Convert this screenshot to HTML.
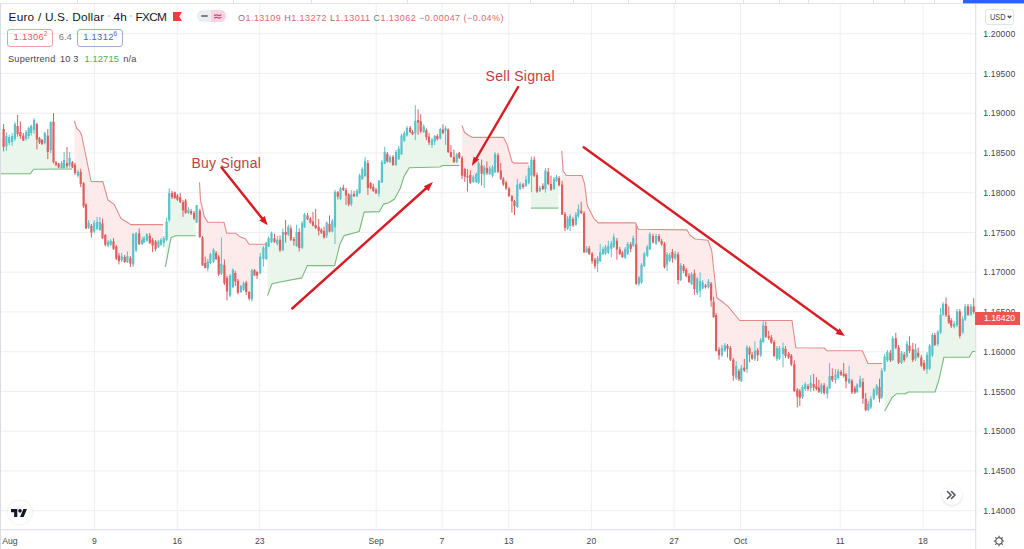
<!DOCTYPE html>
<html><head><meta charset="utf-8">
<style>
html,body{margin:0;padding:0;background:#fff;width:1024px;height:549px;overflow:hidden;}
body{position:relative;font-family:"Liberation Sans",sans-serif;}
.a{position:absolute;white-space:nowrap;}
svg{position:absolute;left:0;top:0;}
.pl{position:absolute;left:983.3px;font-size:8.6px;letter-spacing:0.15px;margin-top:-0.4px;color:#434651;line-height:10px;}
.tl{position:absolute;top:536px;font-size:8.6px;color:#434651;line-height:10px;transform:translateX(-50%);}
</style></head><body>
<div id="root" style="position:absolute;left:0;top:0;width:1024px;height:549px;overflow:hidden;">
<svg width="1024" height="549" viewBox="0 0 1024 549">
<g id="grid" stroke="#edeff2" stroke-width="1">
<line x1="1" y1="33.70" x2="975" y2="33.70"/>
<line x1="1" y1="73.45" x2="975" y2="73.45"/>
<line x1="1" y1="113.20" x2="975" y2="113.20"/>
<line x1="1" y1="152.95" x2="975" y2="152.95"/>
<line x1="1" y1="192.70" x2="975" y2="192.70"/>
<line x1="1" y1="232.45" x2="975" y2="232.45"/>
<line x1="1" y1="272.20" x2="975" y2="272.20"/>
<line x1="1" y1="311.95" x2="975" y2="311.95"/>
<line x1="1" y1="351.70" x2="975" y2="351.70"/>
<line x1="1" y1="391.45" x2="975" y2="391.45"/>
<line x1="1" y1="431.20" x2="975" y2="431.20"/>
<line x1="1" y1="470.95" x2="975" y2="470.95"/>
<line x1="1" y1="510.70" x2="975" y2="510.70"/>
<line x1="94.40" y1="4" x2="94.40" y2="529"/>
<line x1="177.20" y1="4" x2="177.20" y2="529"/>
<line x1="259.70" y1="4" x2="259.70" y2="529"/>
<line x1="376.20" y1="4" x2="376.20" y2="529"/>
<line x1="442.00" y1="4" x2="442.00" y2="529"/>
<line x1="508.80" y1="4" x2="508.80" y2="529"/>
<line x1="591.40" y1="4" x2="591.40" y2="529"/>
<line x1="674.00" y1="4" x2="674.00" y2="529"/>
<line x1="740.50" y1="4" x2="740.50" y2="529"/>
<line x1="840.20" y1="4" x2="840.20" y2="529"/>
<line x1="923.00" y1="4" x2="923.00" y2="529"/>
</g>
<polygon points="0,173.8 3.6,173.8 6.4,173.8 9.2,173.8 12.1,173.8 14.9,173.8 17.6,173.8 20.4,173.8 23.3,173.8 26.1,173.8 28.7,173.8 30.3,173.8 31.2,172.55 33.6,169.2 34.1,169.2 36.9,169.18 39.5,169.17 42,169.16 44.8,169.14 47.8,169.13 50.7,169.11 53.5,169.1 56,169.08 58.6,169.07 61.6,169.06 64.1,169.04 67,169.03 69.6,169.01 72.4,169 72.4,164.85 69.6,161.5 67,164.5 64.1,164 61.6,165.5 58.6,165.45 56,163.55 53.5,141.85 50.7,136 47.8,143.75 44.8,138 42,142 39.5,140.25 36.9,131.65 34.1,125 33.6,125.78 31.2,129.5 30.3,130.4 28.7,132 26.1,135.5 23.3,138.05 20.4,134 17.6,130 14.9,131.5 12.1,139 9.2,140 6.4,141.15 3.6,138 0,138" fill="#eaf6eb"/>
<polygon points="74.4,120.9 75,122.89 76.6,128.2 77.9,129.54 80.2,131.9 80.7,133.1 81.7,135.5 83.6,144.8 86,156.54 88.6,169.27 91.1,181.5 91.4,181.5 94.2,181.53 97.1,181.55 99.9,181.57 102.5,181.6 102.9,181.6 105.3,190.47 107.8,199.7 108.1,199.93 110.7,201.89 113.5,204 114.3,204.6 116.3,208.81 118.9,214.29 120.9,218.5 121.7,218.99 124.7,220.81 127.4,222.45 128.3,223 130.4,224.4 130.7,224.6 133.2,224.6 136.1,224.6 139.2,224.6 142.2,224.6 144.1,224.6 146.9,224.6 149.8,224.6 152.6,224.6 155.6,224.6 158.4,224.6 161,224.6 163,224.6 163,241.12 161,242.3 158.4,244.35 155.6,245.2 152.6,242.7 149.8,239.4 146.9,237.35 144.1,240.25 142.2,241.9 139.2,238.65 136.1,241.9 133.2,249.2 130.7,259.51 130.4,260.75 128.3,259.53 127.4,259 124.7,259.5 121.7,258.25 120.9,258.25 118.9,258.25 116.3,252.55 114.3,247.3 113.5,245.2 110.7,242.75 108.1,243.55 107.8,243.16 105.3,239.9 102.9,232.1 102.5,230.8 99.9,226 97.1,225.4 94.2,227.1 91.4,229.25 91.1,228.8 88.6,225.05 86,216.5 83.6,194.75 81.7,183.71 80.7,177.9 80.2,177.16 77.9,173.75 76.6,171.6 75,168.95 74.4,168" fill="#fdebeb"/>
<polygon points="165.4,266.9 166.6,260.69 169.2,247.23 171.1,237.4 172,237.09 174.8,236.12 176,235.7 177.4,235.7 180.2,235.7 183,235.7 185.6,235.7 188.4,235.7 191.1,235.7 194.1,235.7 195.7,235.7 195.7,214.47 194.1,215.65 191.1,212.35 188.4,211.15 185.6,206.65 183,206.2 180.2,199.65 177.4,197.65 176,196.3 174.8,195.15 172,195.15 171.1,198.85 169.2,206.65 166.6,230.8 165.4,235.02" fill="#eaf6eb"/>
<polygon points="199.5,182.4 199.8,187.68 200.5,200 202.5,208.74 204.3,216.6 205.2,218.11 207.7,222.3 207.8,222.3 210.4,222.3 213.5,222.3 216.1,222.3 218.7,222.3 221.4,222.3 224,222.3 224.4,223.98 226.6,233.2 227,233.2 230.1,233.24 232.9,233.27 235.3,233.29 236,233.3 237.9,234.94 240.4,237.1 240.9,237.26 243.6,238.14 245.3,238.7 246.2,240 249.1,244.2 249.2,244.2 251.9,244.2 254.5,244.2 257.1,244.2 260.2,244.2 263.4,244.2 266,244.2 266,251.01 263.4,253.3 260.2,264.85 257.1,273.75 254.5,272.85 251.9,284.7 249.2,295.3 249.1,295.03 246.2,287.3 245.3,287.01 243.6,286.45 240.9,289.1 240.4,288.71 237.9,286.75 236,279.77 235.3,277.2 232.9,278.45 230.1,285.55 227,284.7 226.6,283.06 224.4,274.05 224,273.34 221.4,268.7 218.7,265.45 216.1,256 213.5,255.7 210.4,258.6 207.8,264.85 207.7,264.87 205.2,265.4 204.3,260.77 202.5,251.5 200.5,231.06 199.8,223.9 199.5,222.95" fill="#fdebeb"/>
<polygon points="267.5,295.6 268.6,292.72 271.5,285.11 272,283.8 274.5,283.24 277.3,282.61 280,282 282.9,281.46 285.6,280.95 288.3,280.45 290.9,279.96 293.9,279.4 296.6,278.89 299.2,278.41 301.9,277.9 302.2,277.22 304.5,271.98 307.3,265.6 307.5,265.6 310.4,265.6 313,265.6 315.7,265.6 318.7,265.6 321.3,265.6 324,265.6 326.7,265.6 329.5,265.6 332.3,265.6 334.6,265.6 335,263.99 337.8,252.74 340,243.9 340.5,242.89 343.3,237.22 344.1,235.6 346,235.08 348.7,234.35 351.3,233.65 354,232.91 357,232.1 359.2,231.5 359.6,229.92 362.3,219.23 364.1,212.1 365.1,212.07 367.9,211.98 370.6,211.89 373.3,211.8 376,211.71 378.9,211.62 379.5,211.6 381.9,207.21 383.6,204.1 384.7,203.8 387.3,203.08 388.7,202.7 390,201.88 393,200 394.6,199 396,196.37 398.7,191.29 400.4,188.1 401.5,184.52 404,176.4 404.3,175.9 407,171.38 409.2,167.7 410.2,167.68 412.5,167.62 415.3,167.56 418.1,167.5 420.7,167.44 423.7,167.37 426.4,167.31 429,167.25 432,167.18 434.7,167.12 437.3,167.06 439.8,167 440.3,166.74 442.7,165.5 443,165.5 445.6,165.5 448.2,165.5 450.9,165.5 453.9,165.5 456.7,165.5 459.3,165.5 459.4,165.5 459.4,155.87 459.3,155.45 456.7,158.15 453.9,159.45 450.9,154.45 448.2,140.85 445.6,129.3 443,131.35 442.7,131.62 440.3,133.75 439.8,134.38 437.3,137.55 434.7,138.75 432,142.3 429,139.65 426.4,133.75 423.7,129.3 420.7,126.35 418.1,121.3 415.3,126.9 412.5,133.15 410.2,129.9 409.2,130.45 407,131.65 404.3,136.95 404,137.81 401.5,144.95 400.4,148.45 398.7,153.85 396,158.55 394.6,159.65 393,160.9 390,159.45 388.7,158.58 387.3,157.65 384.7,158 383.6,163.56 381.9,172.15 379.5,184.27 378.9,187.3 376,191.4 373.3,188.75 370.6,185.5 367.9,175.45 365.1,168.6 364.1,170.51 362.3,173.95 359.6,184.3 359.2,185.72 357,193.5 354,195 351.3,199.4 348.7,199.4 346,192.7 344.1,189.99 343.3,188.85 340.5,193.6 340,193.77 337.8,194.5 335,209.55 334.6,212.01 332.3,226.15 329.5,227.65 326.7,229.1 324,234.15 321.3,231.2 318.7,228.8 315.7,226.5 313,223.5 310.4,220.55 307.5,217.35 307.3,217.57 304.5,220.7 302.2,235.5 301.9,235.95 299.2,240 296.6,239.1 293.9,239.9 290.9,234 288.3,230.45 285.6,233.45 282.9,241.15 280,244.95 277.3,241.7 274.5,240.1 272,237.81 271.5,237.35 268.6,242.3 267.5,246.34" fill="#eaf6eb"/>
<polygon points="461.9,125.4 462,125.66 464.6,132.5 464.8,132.64 467.4,134.49 468.4,135.2 470.3,136.15 472.8,137.4 473.3,137.4 476.3,137.4 478.6,137.4 481.6,137.4 484.2,137.4 486.9,137.4 489.7,137.4 492.5,137.4 495,137.4 498,137.4 500.8,137.4 503.3,137.4 503.4,137.4 506.1,142.31 506.7,143.4 509,151.32 511.9,161.31 512.1,162 514.3,163.1 514.5,163.1 517.3,163.1 520.1,163.1 523.1,163.1 526,163.1 528.5,163.1 528.5,176.39 526,182.6 523.1,185.8 520.1,186.45 517.3,195.7 514.5,203.65 514.3,203.26 512.1,198.94 511.9,198.55 509,192.2 506.7,186.89 506.1,185.5 503.4,181.79 503.3,181.65 500.8,174.65 498,163.5 495,163.15 492.5,171.45 489.7,171.25 486.9,170.55 484.2,170.85 481.6,169.65 478.6,172.9 476.3,177.9 473.3,179.35 472.8,179.27 470.3,178.85 468.4,177.54 467.4,176.85 464.8,172.85 464.6,172.41 462,166.7 461.9,166.28" fill="#fdebeb"/>
<polygon points="531,208.1 531.4,208.1 534.2,208.1 537,208.1 539.9,208.1 542.9,208.1 545.4,208.1 548.2,208.1 551,208.1 554,208.1 556.5,208.1 558.4,208.1 558.4,180.92 556.5,178.8 554,183.9 551,186.75 548.2,177.85 545.4,179.75 542.9,187.4 539.9,189.3 537,183.3 534.2,167.65 531.4,167.65 531,168.88" fill="#eaf6eb"/>
<polygon points="561.8,150.9 562.1,155.54 563.1,171 565,173.59 566.4,175.5 567.6,175.5 570.1,175.5 573,175.5 575.9,175.5 578.4,175.5 581.2,175.5 581.9,175.5 584.1,182.18 584.6,183.7 586.6,199.92 587.3,205.6 589.2,209.37 592.1,215.12 593.7,218.3 595,219.6 597.6,222.2 598.3,222.9 600.2,222.9 603,222.9 605.5,222.9 608.3,222.9 611.3,222.9 613.8,222.9 616.9,222.9 619.8,222.9 622.4,222.9 625.2,222.9 627.7,222.9 630.7,222.9 633.2,222.9 635.6,222.9 636.2,224.32 638.3,229.3 639,229.31 641.5,229.34 644.3,229.37 647.3,229.41 649.8,229.44 653,229.48 656.1,229.52 659,229.55 661.6,229.59 664.5,229.62 667.1,229.65 669.6,229.68 672.4,229.72 675.2,229.75 678.1,229.79 680.7,229.82 683.6,229.86 686.2,229.89 687.1,229.9 689,233.37 690,235.2 691.6,236.39 694.4,238.48 695.1,239 697.2,239.21 700.1,239.51 702.7,239.77 705.5,240.06 707.9,240.3 708.4,241.64 711.1,248.89 711.7,250.5 713.6,268.08 716.1,291.22 716.8,297.7 719,299.34 721.9,301.5 722,301.58 724.9,303.89 727.5,305.96 728.3,306.6 730.4,309.16 733.3,312.7 736.2,316.23 738.9,319.52 739.7,320.5 741.3,320.5 744.3,320.5 747,320.5 749.6,320.5 752.1,320.5 754.9,320.5 757.7,320.5 760.7,320.5 763.2,320.5 765.8,320.5 768.7,320.5 771.3,320.5 774.1,320.5 776.9,320.5 779.4,320.5 783,320.5 785.5,320.5 788.6,320.5 791.3,320.5 792,320.5 794.3,336.6 795.9,347.8 797.3,347.81 799.8,347.83 802.5,347.85 805.2,347.87 808,347.89 810.7,347.9 813.7,347.93 816.4,347.95 818.9,347.96 821.4,347.98 824.1,348 826.9,350.7 827.3,350.7 829.6,350.7 832.3,350.7 835.5,350.7 838.2,350.7 841,350.7 843.7,350.7 846,350.7 849.1,350.7 851.9,350.7 854.9,350.7 857.2,350.7 860.1,350.7 862.3,350.7 862.9,352.05 865.7,358.34 868,363.5 868.3,363.5 870.8,363.5 873.8,363.5 876.7,363.5 879.5,363.5 881.8,363.5 882.1,363.5 882.1,381.71 881.8,383.9 879.5,392.85 876.7,390.25 873.8,394.1 870.8,403.05 868.3,406.85 868,406.56 865.7,404.3 862.9,390.3 862.3,388.79 860.1,383.25 857.2,388.35 854.9,390.35 851.9,386.6 849.1,380.75 846,378 843.7,374.95 841,373.25 838.2,374.6 835.5,377.35 832.3,378.05 829.6,382.15 827.3,390.65 826.9,390.48 824.1,389.25 821.4,388.65 818.9,389.65 816.4,387.6 813.7,385.9 810.7,385.55 808,387.6 805.2,386.6 802.5,392.05 799.8,394.4 797.3,393.05 795.9,385.89 794.3,377.7 792,364.09 791.3,359.95 788.6,355.45 785.5,352.4 783,350.8 779.4,353.4 776.9,353.7 774.1,348.9 771.3,339.95 768.7,337.1 765.8,331.4 763.2,333.6 760.7,347.65 757.7,352.75 754.9,354.95 752.1,356.55 749.6,351.45 747,358.15 744.3,369.15 741.3,374.25 739.7,374.95 738.9,375.3 736.2,372.05 733.3,367.7 730.4,353.85 728.3,349.07 727.5,347.25 724.9,348 722,351.65 721.9,351.68 719,352.4 716.8,337.72 716.1,333.05 713.6,309.35 711.7,296.13 711.1,291.95 708.4,284.25 707.9,284.62 705.5,286.4 702.7,285.45 700.1,285.9 697.2,285.7 695.1,282.36 694.4,281.25 691.6,279.05 690,278.87 689,278.75 687.1,274.78 686.2,272.9 683.6,268.45 680.7,272.65 678.1,267.2 675.2,256.05 672.4,255.1 669.6,257.95 667.1,259.5 664.5,255.4 661.6,242.6 659,238.5 656.1,239.8 653,239.2 649.8,241.75 647.3,251.35 644.3,259.65 641.5,273.65 639,280.7 638.3,276.55 636.2,264.1 635.6,259.64 633.2,241.8 630.7,246.55 627.7,248.8 625.2,253.25 622.4,254.85 619.8,251.65 616.9,245.05 613.8,242 611.3,246.15 608.3,249.3 605.5,250.3 603,251.55 600.2,256.65 598.3,259.72 597.6,260.85 595,263 593.7,260.44 592.1,257.3 589.2,251.25 587.3,250.56 586.6,250.3 584.6,236.26 584.1,232.75 581.9,217.01 581.2,212 578.4,212.65 575.9,219.6 573,222.2 570.1,220.9 567.6,223.5 566.4,222.3 565,220.9 563.1,206.91 562.1,199.55 561.8,197.76" fill="#fdebeb"/>
<polygon points="884.6,411.3 887.4,406.21 890.4,400.75 892.3,397.3 892.7,396.96 895.8,394.31 896.4,393.8 898.6,393.8 901.5,393.8 904.2,393.8 905.5,393.8 906.9,392.87 908.2,392 909.5,392 912.8,392 915.5,392 918.2,392 921.3,392 924.1,392 927,392 929.6,392 932.4,392 934.8,392 935,392 937.8,383.38 938.9,380 940.6,372.25 943,361.3 943.9,357.2 946,357.2 948.8,357.2 951.2,357.2 954.2,357.2 957,357.2 959.8,357.2 962.7,357.2 965.2,357.2 968,357.2 969.3,357.2 970.9,354.35 972.5,351.5 973.7,351.5 976,351.5 976,309.25 973.7,309.25 972.5,309.79 970.9,310.5 969.3,310.5 968,310.5 965.2,312.95 962.7,325.65 959.8,323.6 957,318.25 954.2,325.25 951.2,323.2 948.8,319.1 946,309.65 943.9,309.37 943,309.25 940.6,323.6 938.9,332.31 937.8,337.95 935,339.82 934.8,339.95 932.4,345.3 929.6,357.2 927,361.9 924.1,366 921.3,361.5 918.2,354.65 915.5,354.2 912.8,354.65 909.5,348.25 908.2,349.17 906.9,350.1 905.5,353.86 904.2,357.35 901.5,357.8 898.6,355.1 896.4,345.48 895.8,342.85 892.7,349.2 892.3,350.47 890.4,356.5 887.4,356.15 884.6,363.5" fill="#eaf6eb"/>
<rect x="3.1" y="124" width="1" height="27.4" fill="#dd5f5f"/>
<rect x="2.5" y="129" width="2.2" height="18" fill="#dd5f5f"/>
<rect x="5.9" y="132.3" width="1" height="18.5" fill="#58c3cb"/>
<rect x="5.3" y="136" width="2.2" height="10.3" fill="#58c3cb"/>
<rect x="8.7" y="134.8" width="1" height="10.2" fill="#58c3cb"/>
<rect x="8.1" y="137" width="2.2" height="6" fill="#58c3cb"/>
<rect x="11.6" y="133" width="1" height="12.7" fill="#58c3cb"/>
<rect x="11" y="136" width="2.2" height="6" fill="#58c3cb"/>
<rect x="14.4" y="122" width="1" height="19" fill="#58c3cb"/>
<rect x="13.8" y="124" width="2.2" height="15" fill="#58c3cb"/>
<rect x="17.1" y="115" width="1" height="21.7" fill="#dd5f5f"/>
<rect x="16.5" y="126" width="2.2" height="8" fill="#dd5f5f"/>
<rect x="19.9" y="121.5" width="1" height="17.2" fill="#dd5f5f"/>
<rect x="19.3" y="132" width="2.2" height="4" fill="#dd5f5f"/>
<rect x="22.8" y="133" width="1" height="8" fill="#dd5f5f"/>
<rect x="22.2" y="135.5" width="2.2" height="5.1" fill="#dd5f5f"/>
<rect x="25.6" y="130" width="1" height="10.6" fill="#58c3cb"/>
<rect x="25" y="132" width="2.2" height="7" fill="#58c3cb"/>
<rect x="28.2" y="126.6" width="1" height="12.1" fill="#58c3cb"/>
<rect x="27.6" y="128" width="2.2" height="8" fill="#58c3cb"/>
<rect x="30.7" y="124.6" width="1" height="10.9" fill="#58c3cb"/>
<rect x="30.1" y="126" width="2.2" height="7" fill="#58c3cb"/>
<rect x="33.6" y="118.3" width="1" height="15.3" fill="#58c3cb"/>
<rect x="33" y="120" width="2.2" height="10" fill="#58c3cb"/>
<rect x="36.4" y="122.7" width="1" height="26.8" fill="#dd5f5f"/>
<rect x="35.8" y="124" width="2.2" height="15.3" fill="#dd5f5f"/>
<rect x="39" y="137" width="1" height="7" fill="#dd5f5f"/>
<rect x="38.4" y="138" width="2.2" height="4.5" fill="#dd5f5f"/>
<rect x="41.5" y="139" width="1" height="6" fill="#dd5f5f"/>
<rect x="40.9" y="140" width="2.2" height="4" fill="#dd5f5f"/>
<rect x="44.3" y="131.7" width="1" height="12.7" fill="#58c3cb"/>
<rect x="43.7" y="133" width="2.2" height="10" fill="#58c3cb"/>
<rect x="47.3" y="129" width="1" height="30" fill="#dd5f5f"/>
<rect x="46.7" y="135.5" width="2.2" height="16.5" fill="#dd5f5f"/>
<rect x="50.2" y="121.5" width="1" height="31.8" fill="#58c3cb"/>
<rect x="49.6" y="122" width="2.2" height="28" fill="#58c3cb"/>
<rect x="53" y="113.2" width="1" height="50.3" fill="#dd5f5f"/>
<rect x="52.4" y="121.5" width="2.2" height="40.7" fill="#dd5f5f"/>
<rect x="55.5" y="161" width="1" height="5" fill="#dd5f5f"/>
<rect x="54.9" y="162.3" width="2.2" height="2.5" fill="#dd5f5f"/>
<rect x="58.1" y="163" width="1" height="5" fill="#dd5f5f"/>
<rect x="57.5" y="163.5" width="2.2" height="3.9" fill="#dd5f5f"/>
<rect x="61.1" y="161" width="1" height="7.5" fill="#58c3cb"/>
<rect x="60.5" y="163" width="2.2" height="5" fill="#58c3cb"/>
<rect x="63.6" y="152.1" width="1" height="16.4" fill="#58c3cb"/>
<rect x="63" y="160" width="2.2" height="8" fill="#58c3cb"/>
<rect x="66.5" y="147" width="1" height="21" fill="#dd5f5f"/>
<rect x="65.9" y="163" width="2.2" height="3" fill="#dd5f5f"/>
<rect x="69.1" y="152" width="1" height="15.4" fill="#58c3cb"/>
<rect x="68.5" y="158" width="2.2" height="7" fill="#58c3cb"/>
<rect x="71.9" y="161" width="1" height="7" fill="#dd5f5f"/>
<rect x="71.3" y="162.3" width="2.2" height="5.1" fill="#dd5f5f"/>
<rect x="74.5" y="163" width="1" height="12" fill="#dd5f5f"/>
<rect x="73.9" y="164.8" width="2.2" height="8.3" fill="#dd5f5f"/>
<rect x="77.4" y="170" width="1" height="7.6" fill="#58c3cb"/>
<rect x="76.8" y="171.8" width="2.2" height="3.9" fill="#58c3cb"/>
<rect x="80.2" y="168.7" width="1" height="18.3" fill="#dd5f5f"/>
<rect x="79.6" y="171.8" width="2.2" height="12.2" fill="#dd5f5f"/>
<rect x="83.1" y="182" width="1" height="26" fill="#dd5f5f"/>
<rect x="82.5" y="183.3" width="2.2" height="22.9" fill="#dd5f5f"/>
<rect x="85.5" y="203" width="1" height="26" fill="#dd5f5f"/>
<rect x="84.9" y="204.6" width="2.2" height="23.8" fill="#dd5f5f"/>
<rect x="88.1" y="220" width="1" height="9" fill="#58c3cb"/>
<rect x="87.5" y="222.6" width="2.2" height="4.9" fill="#58c3cb"/>
<rect x="90.9" y="224" width="1" height="13.4" fill="#dd5f5f"/>
<rect x="90.3" y="226" width="2.2" height="6.5" fill="#dd5f5f"/>
<rect x="93.7" y="220" width="1" height="13" fill="#58c3cb"/>
<rect x="93.1" y="222.6" width="2.2" height="9" fill="#58c3cb"/>
<rect x="96.6" y="217" width="1" height="13" fill="#58c3cb"/>
<rect x="96" y="221.8" width="2.2" height="7.2" fill="#58c3cb"/>
<rect x="99.4" y="217" width="1" height="14" fill="#58c3cb"/>
<rect x="98.8" y="222" width="2.2" height="8" fill="#58c3cb"/>
<rect x="102" y="218.5" width="1" height="20.5" fill="#dd5f5f"/>
<rect x="101.4" y="223.4" width="2.2" height="14.8" fill="#dd5f5f"/>
<rect x="104.8" y="234" width="1" height="12.4" fill="#dd5f5f"/>
<rect x="104.2" y="235" width="2.2" height="9.8" fill="#dd5f5f"/>
<rect x="107.6" y="240" width="1" height="7" fill="#58c3cb"/>
<rect x="107" y="241.5" width="2.2" height="4.1" fill="#58c3cb"/>
<rect x="110.2" y="239" width="1" height="7" fill="#58c3cb"/>
<rect x="109.6" y="240.7" width="2.2" height="4.1" fill="#58c3cb"/>
<rect x="113" y="238.2" width="1" height="11.8" fill="#dd5f5f"/>
<rect x="112.4" y="241.5" width="2.2" height="7.4" fill="#dd5f5f"/>
<rect x="115.8" y="245" width="1" height="15" fill="#dd5f5f"/>
<rect x="115.2" y="246.4" width="2.2" height="12.3" fill="#dd5f5f"/>
<rect x="118.4" y="253" width="1" height="11.4" fill="#dd5f5f"/>
<rect x="117.8" y="255.4" width="2.2" height="5.7" fill="#dd5f5f"/>
<rect x="121.2" y="253" width="1" height="9" fill="#58c3cb"/>
<rect x="120.6" y="256.2" width="2.2" height="4.1" fill="#58c3cb"/>
<rect x="124.2" y="255" width="1" height="8" fill="#dd5f5f"/>
<rect x="123.6" y="257" width="2.2" height="5" fill="#dd5f5f"/>
<rect x="126.9" y="251.3" width="1" height="11.7" fill="#58c3cb"/>
<rect x="126.3" y="256" width="2.2" height="6" fill="#58c3cb"/>
<rect x="129.9" y="256" width="1" height="10.9" fill="#dd5f5f"/>
<rect x="129.3" y="257.9" width="2.2" height="5.7" fill="#dd5f5f"/>
<rect x="132.7" y="233" width="1" height="33.9" fill="#58c3cb"/>
<rect x="132.1" y="234" width="2.2" height="30.4" fill="#58c3cb"/>
<rect x="135.6" y="232" width="1" height="20" fill="#58c3cb"/>
<rect x="135" y="233.3" width="2.2" height="17.2" fill="#58c3cb"/>
<rect x="138.7" y="228.4" width="1" height="16.6" fill="#dd5f5f"/>
<rect x="138.1" y="233.3" width="2.2" height="10.7" fill="#dd5f5f"/>
<rect x="141.7" y="237" width="1" height="8" fill="#58c3cb"/>
<rect x="141.1" y="239.8" width="2.2" height="4.2" fill="#58c3cb"/>
<rect x="143.6" y="236" width="1" height="7" fill="#58c3cb"/>
<rect x="143" y="238.2" width="2.2" height="4.1" fill="#58c3cb"/>
<rect x="146.4" y="233.3" width="1" height="8.7" fill="#58c3cb"/>
<rect x="145.8" y="234" width="2.2" height="6.7" fill="#58c3cb"/>
<rect x="149.3" y="233" width="1" height="11" fill="#dd5f5f"/>
<rect x="148.7" y="235.7" width="2.2" height="7.4" fill="#dd5f5f"/>
<rect x="152.1" y="238" width="1" height="14.1" fill="#dd5f5f"/>
<rect x="151.5" y="239.8" width="2.2" height="5.8" fill="#dd5f5f"/>
<rect x="155.1" y="240" width="1" height="11.3" fill="#dd5f5f"/>
<rect x="154.5" y="241.5" width="2.2" height="7.4" fill="#dd5f5f"/>
<rect x="157.9" y="240" width="1" height="8" fill="#58c3cb"/>
<rect x="157.3" y="241.5" width="2.2" height="5.7" fill="#58c3cb"/>
<rect x="160.5" y="238" width="1" height="8" fill="#58c3cb"/>
<rect x="159.9" y="239.8" width="2.2" height="5" fill="#58c3cb"/>
<rect x="163.3" y="236" width="1" height="11.2" fill="#58c3cb"/>
<rect x="162.7" y="238.2" width="2.2" height="4.9" fill="#58c3cb"/>
<rect x="166.1" y="217.7" width="1" height="23.3" fill="#58c3cb"/>
<rect x="165.5" y="221.8" width="2.2" height="18" fill="#58c3cb"/>
<rect x="168.7" y="188.2" width="1" height="33.8" fill="#58c3cb"/>
<rect x="168.1" y="193.1" width="2.2" height="27.1" fill="#58c3cb"/>
<rect x="171.5" y="191" width="1" height="8" fill="#dd5f5f"/>
<rect x="170.9" y="193.1" width="2.2" height="4.1" fill="#dd5f5f"/>
<rect x="174.3" y="191.5" width="1" height="7.5" fill="#dd5f5f"/>
<rect x="173.7" y="192.3" width="2.2" height="5.7" fill="#dd5f5f"/>
<rect x="176.9" y="194" width="1" height="7" fill="#dd5f5f"/>
<rect x="176.3" y="195.6" width="2.2" height="4.1" fill="#dd5f5f"/>
<rect x="179.7" y="193" width="1" height="10" fill="#dd5f5f"/>
<rect x="179.1" y="197.2" width="2.2" height="4.9" fill="#dd5f5f"/>
<rect x="182.5" y="200" width="1" height="16.9" fill="#dd5f5f"/>
<rect x="181.9" y="202.1" width="2.2" height="8.2" fill="#dd5f5f"/>
<rect x="185.1" y="199" width="1" height="15" fill="#dd5f5f"/>
<rect x="184.5" y="200.5" width="2.2" height="12.3" fill="#dd5f5f"/>
<rect x="187.9" y="207" width="1" height="7" fill="#58c3cb"/>
<rect x="187.3" y="209.5" width="2.2" height="3.3" fill="#58c3cb"/>
<rect x="190.6" y="209" width="1" height="6" fill="#dd5f5f"/>
<rect x="190" y="211.1" width="2.2" height="2.5" fill="#dd5f5f"/>
<rect x="193.6" y="211" width="1" height="9" fill="#dd5f5f"/>
<rect x="193" y="212.8" width="2.2" height="5.7" fill="#dd5f5f"/>
<rect x="196.1" y="205.4" width="1" height="17.6" fill="#58c3cb"/>
<rect x="195.5" y="205" width="2.2" height="17.6" fill="#58c3cb"/>
<rect x="199.3" y="209" width="1" height="29" fill="#dd5f5f"/>
<rect x="198.7" y="210.8" width="2.2" height="26.2" fill="#dd5f5f"/>
<rect x="202" y="236" width="1" height="30" fill="#dd5f5f"/>
<rect x="201.4" y="237.6" width="2.2" height="27.8" fill="#dd5f5f"/>
<rect x="204.7" y="256.6" width="1" height="11.9" fill="#dd5f5f"/>
<rect x="204.1" y="263" width="2.2" height="4.8" fill="#dd5f5f"/>
<rect x="207.3" y="259" width="1" height="12.4" fill="#58c3cb"/>
<rect x="206.7" y="261.3" width="2.2" height="7.1" fill="#58c3cb"/>
<rect x="209.9" y="253" width="1" height="11" fill="#58c3cb"/>
<rect x="209.3" y="254.2" width="2.2" height="8.8" fill="#58c3cb"/>
<rect x="213" y="248.3" width="1" height="14.7" fill="#58c3cb"/>
<rect x="212.4" y="249.5" width="2.2" height="12.4" fill="#58c3cb"/>
<rect x="215.6" y="251" width="1" height="9" fill="#dd5f5f"/>
<rect x="215" y="253" width="2.2" height="6" fill="#dd5f5f"/>
<rect x="218.2" y="255" width="1" height="21" fill="#dd5f5f"/>
<rect x="217.6" y="256.6" width="2.2" height="17.7" fill="#dd5f5f"/>
<rect x="220.9" y="237.6" width="1" height="37.4" fill="#58c3cb"/>
<rect x="220.3" y="263.7" width="2.2" height="10" fill="#58c3cb"/>
<rect x="223.9" y="259.5" width="1" height="25.5" fill="#dd5f5f"/>
<rect x="223.3" y="264.9" width="2.2" height="18.3" fill="#dd5f5f"/>
<rect x="226.5" y="276" width="1" height="24.4" fill="#dd5f5f"/>
<rect x="225.9" y="277.9" width="2.2" height="13.6" fill="#dd5f5f"/>
<rect x="229.6" y="274.3" width="1" height="22.7" fill="#58c3cb"/>
<rect x="229" y="275.5" width="2.2" height="20.1" fill="#58c3cb"/>
<rect x="232.4" y="268.4" width="1" height="19.6" fill="#58c3cb"/>
<rect x="231.8" y="269.6" width="2.2" height="17.7" fill="#58c3cb"/>
<rect x="234.8" y="270.8" width="1" height="15.2" fill="#dd5f5f"/>
<rect x="234.2" y="273" width="2.2" height="8.4" fill="#dd5f5f"/>
<rect x="237.4" y="279" width="1" height="15.4" fill="#dd5f5f"/>
<rect x="236.8" y="280.8" width="2.2" height="11.9" fill="#dd5f5f"/>
<rect x="240.4" y="285" width="1" height="8" fill="#58c3cb"/>
<rect x="239.8" y="286.2" width="2.2" height="5.8" fill="#58c3cb"/>
<rect x="243.1" y="281.4" width="1" height="9.6" fill="#58c3cb"/>
<rect x="242.5" y="283.2" width="2.2" height="6.5" fill="#58c3cb"/>
<rect x="245.7" y="280.8" width="1" height="14.2" fill="#dd5f5f"/>
<rect x="245.1" y="282.6" width="2.2" height="9.4" fill="#dd5f5f"/>
<rect x="248.7" y="291" width="1" height="9.4" fill="#dd5f5f"/>
<rect x="248.1" y="292" width="2.2" height="6.6" fill="#dd5f5f"/>
<rect x="251.4" y="269" width="1" height="32.5" fill="#58c3cb"/>
<rect x="250.8" y="270.2" width="2.2" height="29" fill="#58c3cb"/>
<rect x="254" y="269" width="1" height="7" fill="#dd5f5f"/>
<rect x="253.4" y="270.2" width="2.2" height="5.3" fill="#dd5f5f"/>
<rect x="256.6" y="271" width="1" height="8" fill="#dd5f5f"/>
<rect x="256" y="272" width="2.2" height="3.5" fill="#dd5f5f"/>
<rect x="259.7" y="253" width="1" height="21" fill="#58c3cb"/>
<rect x="259.1" y="256.6" width="2.2" height="16.5" fill="#58c3cb"/>
<rect x="262.9" y="246" width="1" height="20.6" fill="#58c3cb"/>
<rect x="262.3" y="247.7" width="2.2" height="11.2" fill="#58c3cb"/>
<rect x="265.8" y="242" width="1" height="18" fill="#58c3cb"/>
<rect x="265.2" y="242.5" width="2.2" height="16.5" fill="#58c3cb"/>
<rect x="268.1" y="236.5" width="1" height="10.5" fill="#58c3cb"/>
<rect x="267.5" y="238.2" width="2.2" height="8.2" fill="#58c3cb"/>
<rect x="271" y="231.6" width="1" height="11.4" fill="#58c3cb"/>
<rect x="270.4" y="232.7" width="2.2" height="9.3" fill="#58c3cb"/>
<rect x="274" y="233.8" width="1" height="9.2" fill="#dd5f5f"/>
<rect x="273.4" y="238.2" width="2.2" height="3.8" fill="#dd5f5f"/>
<rect x="276.8" y="236" width="1" height="9.6" fill="#58c3cb"/>
<rect x="276.2" y="239.6" width="2.2" height="4.2" fill="#58c3cb"/>
<rect x="279.5" y="235.5" width="1" height="16.5" fill="#dd5f5f"/>
<rect x="278.9" y="239.6" width="2.2" height="10.7" fill="#dd5f5f"/>
<rect x="282.4" y="228.4" width="1" height="22.6" fill="#58c3cb"/>
<rect x="281.8" y="232" width="2.2" height="18.3" fill="#58c3cb"/>
<rect x="285.1" y="220.1" width="1" height="22.5" fill="#dd5f5f"/>
<rect x="284.5" y="232" width="2.2" height="2.9" fill="#dd5f5f"/>
<rect x="287.8" y="224.9" width="1" height="11.1" fill="#58c3cb"/>
<rect x="287.2" y="226.6" width="2.2" height="7.7" fill="#58c3cb"/>
<rect x="290.4" y="225.4" width="1" height="15.6" fill="#dd5f5f"/>
<rect x="289.8" y="228.4" width="2.2" height="11.2" fill="#dd5f5f"/>
<rect x="293.4" y="237" width="1" height="8.6" fill="#dd5f5f"/>
<rect x="292.8" y="239" width="2.2" height="1.8" fill="#dd5f5f"/>
<rect x="296.1" y="224.9" width="1" height="22.1" fill="#58c3cb"/>
<rect x="295.5" y="232" width="2.2" height="14.2" fill="#58c3cb"/>
<rect x="298.7" y="228.4" width="1" height="23.1" fill="#dd5f5f"/>
<rect x="298.1" y="232" width="2.2" height="16" fill="#dd5f5f"/>
<rect x="301.7" y="221" width="1" height="28" fill="#58c3cb"/>
<rect x="301.1" y="223" width="2.2" height="25" fill="#58c3cb"/>
<rect x="304" y="213" width="1" height="15" fill="#58c3cb"/>
<rect x="303.4" y="214.2" width="2.2" height="13" fill="#58c3cb"/>
<rect x="307" y="213" width="1" height="7" fill="#dd5f5f"/>
<rect x="306.4" y="215.4" width="2.2" height="3.9" fill="#dd5f5f"/>
<rect x="309.9" y="217" width="1" height="6.5" fill="#dd5f5f"/>
<rect x="309.3" y="218.5" width="2.2" height="4.1" fill="#dd5f5f"/>
<rect x="312.5" y="212" width="1" height="14.5" fill="#dd5f5f"/>
<rect x="311.9" y="221.4" width="2.2" height="4.2" fill="#dd5f5f"/>
<rect x="315.2" y="209" width="1" height="20" fill="#dd5f5f"/>
<rect x="314.6" y="225" width="2.2" height="3" fill="#dd5f5f"/>
<rect x="318.2" y="219" width="1" height="16.6" fill="#dd5f5f"/>
<rect x="317.6" y="226.7" width="2.2" height="4.2" fill="#dd5f5f"/>
<rect x="320.8" y="228" width="1" height="6" fill="#dd5f5f"/>
<rect x="320.2" y="229.7" width="2.2" height="3" fill="#dd5f5f"/>
<rect x="323.5" y="226.7" width="1" height="11.8" fill="#dd5f5f"/>
<rect x="322.9" y="230.9" width="2.2" height="6.5" fill="#dd5f5f"/>
<rect x="326.2" y="221.4" width="1" height="16.6" fill="#58c3cb"/>
<rect x="325.6" y="222.6" width="2.2" height="13" fill="#58c3cb"/>
<rect x="329" y="215.5" width="1" height="17" fill="#dd5f5f"/>
<rect x="328.4" y="223.8" width="2.2" height="7.7" fill="#dd5f5f"/>
<rect x="331.8" y="219" width="1" height="13.5" fill="#58c3cb"/>
<rect x="331.2" y="220.8" width="2.2" height="10.7" fill="#58c3cb"/>
<rect x="334.5" y="190" width="1" height="53.9" fill="#58c3cb"/>
<rect x="333.9" y="191.8" width="2.2" height="35.5" fill="#58c3cb"/>
<rect x="337.3" y="191" width="1" height="8.5" fill="#dd5f5f"/>
<rect x="336.7" y="192.4" width="2.2" height="4.2" fill="#dd5f5f"/>
<rect x="340" y="187" width="1" height="13" fill="#58c3cb"/>
<rect x="339.4" y="188.3" width="2.2" height="10.6" fill="#58c3cb"/>
<rect x="342.8" y="184.7" width="1" height="6.3" fill="#dd5f5f"/>
<rect x="342.2" y="187.7" width="2.2" height="2.3" fill="#dd5f5f"/>
<rect x="345.5" y="188" width="1" height="16.9" fill="#dd5f5f"/>
<rect x="344.9" y="190" width="2.2" height="5.4" fill="#dd5f5f"/>
<rect x="348.2" y="193" width="1" height="13.2" fill="#dd5f5f"/>
<rect x="347.6" y="194.4" width="2.2" height="10" fill="#dd5f5f"/>
<rect x="350.8" y="190.2" width="1" height="16" fill="#58c3cb"/>
<rect x="350.2" y="194.4" width="2.2" height="10" fill="#58c3cb"/>
<rect x="353.5" y="190.8" width="1" height="6.2" fill="#dd5f5f"/>
<rect x="352.9" y="193.8" width="2.2" height="2.4" fill="#dd5f5f"/>
<rect x="356.5" y="189" width="1" height="8" fill="#58c3cb"/>
<rect x="355.9" y="190.8" width="2.2" height="5.4" fill="#58c3cb"/>
<rect x="359.1" y="173.7" width="1" height="20.3" fill="#58c3cb"/>
<rect x="358.5" y="175.4" width="2.2" height="17.8" fill="#58c3cb"/>
<rect x="361.8" y="167.2" width="1" height="12.8" fill="#58c3cb"/>
<rect x="361.2" y="168.9" width="2.2" height="10.1" fill="#58c3cb"/>
<rect x="364.6" y="157.1" width="1" height="19.9" fill="#58c3cb"/>
<rect x="364" y="161.2" width="2.2" height="14.8" fill="#58c3cb"/>
<rect x="367.4" y="160" width="1" height="35" fill="#dd5f5f"/>
<rect x="366.8" y="163" width="2.2" height="24.9" fill="#dd5f5f"/>
<rect x="370.1" y="182" width="1" height="7" fill="#dd5f5f"/>
<rect x="369.5" y="183.1" width="2.2" height="4.8" fill="#dd5f5f"/>
<rect x="372.8" y="183.7" width="1" height="8.3" fill="#dd5f5f"/>
<rect x="372.2" y="186.7" width="2.2" height="4.1" fill="#dd5f5f"/>
<rect x="375.5" y="188" width="1" height="6" fill="#dd5f5f"/>
<rect x="374.9" y="189.6" width="2.2" height="3.6" fill="#dd5f5f"/>
<rect x="378.4" y="180" width="1" height="16.7" fill="#58c3cb"/>
<rect x="377.8" y="180.8" width="2.2" height="13" fill="#58c3cb"/>
<rect x="381.4" y="160" width="1" height="23" fill="#58c3cb"/>
<rect x="380.8" y="161.8" width="2.2" height="20.7" fill="#58c3cb"/>
<rect x="384.2" y="146.7" width="1" height="17.3" fill="#58c3cb"/>
<rect x="383.6" y="152.1" width="2.2" height="11.8" fill="#58c3cb"/>
<rect x="386.8" y="152" width="1" height="10.5" fill="#dd5f5f"/>
<rect x="386.2" y="153.8" width="2.2" height="7.7" fill="#dd5f5f"/>
<rect x="389.5" y="155" width="1" height="8" fill="#58c3cb"/>
<rect x="388.9" y="156.8" width="2.2" height="5.3" fill="#58c3cb"/>
<rect x="392.5" y="155" width="1" height="11" fill="#dd5f5f"/>
<rect x="391.9" y="156.8" width="2.2" height="8.2" fill="#dd5f5f"/>
<rect x="395.5" y="150" width="1" height="16" fill="#58c3cb"/>
<rect x="394.9" y="152.1" width="2.2" height="12.9" fill="#58c3cb"/>
<rect x="398.2" y="146" width="1" height="14" fill="#58c3cb"/>
<rect x="397.6" y="148.5" width="2.2" height="10.7" fill="#58c3cb"/>
<rect x="401" y="134" width="1" height="21" fill="#58c3cb"/>
<rect x="400.4" y="135.5" width="2.2" height="18.9" fill="#58c3cb"/>
<rect x="403.8" y="131" width="1" height="11" fill="#58c3cb"/>
<rect x="403.2" y="133.1" width="2.2" height="7.7" fill="#58c3cb"/>
<rect x="406.5" y="126" width="1" height="10.5" fill="#58c3cb"/>
<rect x="405.9" y="127.8" width="2.2" height="7.7" fill="#58c3cb"/>
<rect x="409.7" y="126" width="1" height="7" fill="#dd5f5f"/>
<rect x="409.1" y="127.8" width="2.2" height="4.2" fill="#dd5f5f"/>
<rect x="412" y="130" width="1" height="5" fill="#dd5f5f"/>
<rect x="411.4" y="132" width="2.2" height="2.3" fill="#dd5f5f"/>
<rect x="414.8" y="105.3" width="1" height="34.9" fill="#58c3cb"/>
<rect x="414.2" y="120.7" width="2.2" height="12.4" fill="#58c3cb"/>
<rect x="417.6" y="109.5" width="1" height="25.4" fill="#dd5f5f"/>
<rect x="417" y="120.1" width="2.2" height="2.4" fill="#dd5f5f"/>
<rect x="420.2" y="114.2" width="1" height="18.9" fill="#dd5f5f"/>
<rect x="419.6" y="121.3" width="2.2" height="10.1" fill="#dd5f5f"/>
<rect x="423.2" y="124.3" width="1" height="8.7" fill="#58c3cb"/>
<rect x="422.6" y="126.6" width="2.2" height="5.4" fill="#58c3cb"/>
<rect x="425.9" y="128.4" width="1" height="11.8" fill="#dd5f5f"/>
<rect x="425.3" y="130.2" width="2.2" height="7.1" fill="#dd5f5f"/>
<rect x="428.5" y="133.1" width="1" height="11.9" fill="#dd5f5f"/>
<rect x="427.9" y="136.7" width="2.2" height="5.9" fill="#dd5f5f"/>
<rect x="431.5" y="138" width="1" height="9.9" fill="#58c3cb"/>
<rect x="430.9" y="139.6" width="2.2" height="5.4" fill="#58c3cb"/>
<rect x="434.2" y="135" width="1" height="10" fill="#58c3cb"/>
<rect x="433.6" y="136.1" width="2.2" height="5.3" fill="#58c3cb"/>
<rect x="436.8" y="134" width="1" height="6.5" fill="#dd5f5f"/>
<rect x="436.2" y="136.1" width="2.2" height="2.9" fill="#dd5f5f"/>
<rect x="439.8" y="127.8" width="1" height="11.7" fill="#58c3cb"/>
<rect x="439.2" y="129" width="2.2" height="9.5" fill="#58c3cb"/>
<rect x="442.5" y="124.3" width="1" height="9.7" fill="#dd5f5f"/>
<rect x="441.9" y="129.6" width="2.2" height="3.5" fill="#dd5f5f"/>
<rect x="445.1" y="126" width="1" height="19" fill="#58c3cb"/>
<rect x="444.5" y="127.8" width="2.2" height="3" fill="#58c3cb"/>
<rect x="447.7" y="128.4" width="1" height="24.6" fill="#dd5f5f"/>
<rect x="447.1" y="129.6" width="2.2" height="22.5" fill="#dd5f5f"/>
<rect x="450.4" y="145" width="1" height="12.5" fill="#dd5f5f"/>
<rect x="449.8" y="152.1" width="2.2" height="4.7" fill="#dd5f5f"/>
<rect x="453.4" y="149.7" width="1" height="13.3" fill="#dd5f5f"/>
<rect x="452.8" y="156.8" width="2.2" height="5.3" fill="#dd5f5f"/>
<rect x="456.2" y="153" width="1" height="10" fill="#58c3cb"/>
<rect x="455.6" y="154.3" width="2.2" height="7.7" fill="#58c3cb"/>
<rect x="458.8" y="152" width="1" height="7" fill="#dd5f5f"/>
<rect x="458.2" y="153.1" width="2.2" height="4.7" fill="#dd5f5f"/>
<rect x="461.5" y="156" width="1" height="23" fill="#dd5f5f"/>
<rect x="460.9" y="157.8" width="2.2" height="17.8" fill="#dd5f5f"/>
<rect x="464.3" y="168" width="1" height="14" fill="#dd5f5f"/>
<rect x="463.7" y="169" width="2.2" height="7.7" fill="#dd5f5f"/>
<rect x="466.9" y="169" width="1" height="22.5" fill="#dd5f5f"/>
<rect x="466.3" y="176.2" width="2.2" height="1.3" fill="#dd5f5f"/>
<rect x="469.8" y="170.2" width="1" height="13.8" fill="#dd5f5f"/>
<rect x="469.2" y="175" width="2.2" height="7.7" fill="#dd5f5f"/>
<rect x="472.8" y="175" width="1" height="8" fill="#58c3cb"/>
<rect x="472.2" y="176.7" width="2.2" height="5.3" fill="#58c3cb"/>
<rect x="475.8" y="172.6" width="1" height="10.4" fill="#58c3cb"/>
<rect x="475.2" y="173.8" width="2.2" height="8.2" fill="#58c3cb"/>
<rect x="478.1" y="161" width="1" height="23" fill="#58c3cb"/>
<rect x="477.5" y="163.1" width="2.2" height="19.6" fill="#58c3cb"/>
<rect x="481.1" y="159.6" width="1" height="26" fill="#dd5f5f"/>
<rect x="480.5" y="165.5" width="2.2" height="8.3" fill="#dd5f5f"/>
<rect x="483.7" y="165" width="1" height="23" fill="#58c3cb"/>
<rect x="483.1" y="167.3" width="2.2" height="7.1" fill="#58c3cb"/>
<rect x="486.4" y="161.4" width="1" height="13.6" fill="#dd5f5f"/>
<rect x="485.8" y="167.9" width="2.2" height="5.3" fill="#dd5f5f"/>
<rect x="489.2" y="166" width="1" height="9" fill="#58c3cb"/>
<rect x="488.6" y="168.5" width="2.2" height="5.5" fill="#58c3cb"/>
<rect x="492" y="165" width="1" height="12.5" fill="#58c3cb"/>
<rect x="491.4" y="167.3" width="2.2" height="8.3" fill="#58c3cb"/>
<rect x="494.5" y="152" width="1" height="21" fill="#58c3cb"/>
<rect x="493.9" y="153.9" width="2.2" height="18.5" fill="#58c3cb"/>
<rect x="497.5" y="153" width="1" height="20" fill="#dd5f5f"/>
<rect x="496.9" y="155.2" width="2.2" height="16.6" fill="#dd5f5f"/>
<rect x="500.3" y="162.9" width="1" height="17.1" fill="#dd5f5f"/>
<rect x="499.7" y="170.5" width="2.2" height="8.3" fill="#dd5f5f"/>
<rect x="502.8" y="177" width="1" height="9" fill="#dd5f5f"/>
<rect x="502.2" y="178.8" width="2.2" height="5.7" fill="#dd5f5f"/>
<rect x="505.6" y="181" width="1" height="9" fill="#dd5f5f"/>
<rect x="505" y="182.6" width="2.2" height="5.8" fill="#dd5f5f"/>
<rect x="508.5" y="187" width="1" height="10" fill="#dd5f5f"/>
<rect x="507.9" y="188.4" width="2.2" height="7.6" fill="#dd5f5f"/>
<rect x="511.4" y="195" width="1" height="17.6" fill="#dd5f5f"/>
<rect x="510.8" y="196" width="2.2" height="5.1" fill="#dd5f5f"/>
<rect x="514" y="200" width="1" height="15" fill="#dd5f5f"/>
<rect x="513.4" y="201.1" width="2.2" height="5.1" fill="#dd5f5f"/>
<rect x="516.8" y="178.8" width="1" height="29.2" fill="#58c3cb"/>
<rect x="516.2" y="184.5" width="2.2" height="22.4" fill="#58c3cb"/>
<rect x="519.6" y="182" width="1" height="8.5" fill="#58c3cb"/>
<rect x="519" y="183.9" width="2.2" height="5.1" fill="#58c3cb"/>
<rect x="522.6" y="183" width="1" height="6" fill="#dd5f5f"/>
<rect x="522" y="184.5" width="2.2" height="2.6" fill="#dd5f5f"/>
<rect x="525.5" y="175.6" width="1" height="11.4" fill="#58c3cb"/>
<rect x="524.9" y="179.4" width="2.2" height="6.4" fill="#58c3cb"/>
<rect x="528.3" y="165.4" width="1" height="19.1" fill="#58c3cb"/>
<rect x="527.7" y="168" width="2.2" height="15.3" fill="#58c3cb"/>
<rect x="530.9" y="156.5" width="1" height="35.7" fill="#58c3cb"/>
<rect x="530.3" y="159.7" width="2.2" height="15.9" fill="#58c3cb"/>
<rect x="533.7" y="156.5" width="1" height="20.5" fill="#dd5f5f"/>
<rect x="533.1" y="159.7" width="2.2" height="15.9" fill="#dd5f5f"/>
<rect x="536.5" y="172.4" width="1" height="20.6" fill="#dd5f5f"/>
<rect x="535.9" y="175" width="2.2" height="16.6" fill="#dd5f5f"/>
<rect x="539.4" y="185.8" width="1" height="6.2" fill="#58c3cb"/>
<rect x="538.8" y="187.7" width="2.2" height="3.2" fill="#58c3cb"/>
<rect x="542.4" y="183.3" width="1" height="6.7" fill="#dd5f5f"/>
<rect x="541.8" y="185.8" width="2.2" height="3.2" fill="#dd5f5f"/>
<rect x="544.9" y="168" width="1" height="24.8" fill="#58c3cb"/>
<rect x="544.3" y="170.5" width="2.2" height="18.5" fill="#58c3cb"/>
<rect x="547.7" y="168" width="1" height="17" fill="#dd5f5f"/>
<rect x="547.1" y="171.8" width="2.2" height="12.1" fill="#dd5f5f"/>
<rect x="550.5" y="175.6" width="1" height="15.4" fill="#dd5f5f"/>
<rect x="549.9" y="183.9" width="2.2" height="5.7" fill="#dd5f5f"/>
<rect x="553.5" y="177" width="1" height="13" fill="#58c3cb"/>
<rect x="552.9" y="178.8" width="2.2" height="10.2" fill="#58c3cb"/>
<rect x="556" y="175" width="1" height="7" fill="#58c3cb"/>
<rect x="555.4" y="176.9" width="2.2" height="3.8" fill="#58c3cb"/>
<rect x="558.6" y="176" width="1" height="10.5" fill="#dd5f5f"/>
<rect x="558" y="178.2" width="2.2" height="7" fill="#dd5f5f"/>
<rect x="561.6" y="180.7" width="1" height="34.3" fill="#dd5f5f"/>
<rect x="561" y="184.6" width="2.2" height="29.9" fill="#dd5f5f"/>
<rect x="564.5" y="212" width="1" height="19.1" fill="#dd5f5f"/>
<rect x="563.9" y="213.9" width="2.2" height="14" fill="#dd5f5f"/>
<rect x="567.1" y="216" width="1" height="14" fill="#58c3cb"/>
<rect x="566.5" y="218.4" width="2.2" height="10.2" fill="#58c3cb"/>
<rect x="569.6" y="214" width="1" height="17" fill="#58c3cb"/>
<rect x="569" y="215.8" width="2.2" height="10.2" fill="#58c3cb"/>
<rect x="572.5" y="217" width="1" height="10" fill="#dd5f5f"/>
<rect x="571.9" y="219" width="2.2" height="6.4" fill="#dd5f5f"/>
<rect x="575.4" y="212" width="1" height="14" fill="#58c3cb"/>
<rect x="574.8" y="214.5" width="2.2" height="10.2" fill="#58c3cb"/>
<rect x="577.9" y="204.3" width="1" height="13.7" fill="#58c3cb"/>
<rect x="577.3" y="208.8" width="2.2" height="7.7" fill="#58c3cb"/>
<rect x="580.7" y="201.8" width="1" height="12.2" fill="#dd5f5f"/>
<rect x="580.1" y="210.7" width="2.2" height="2.6" fill="#dd5f5f"/>
<rect x="583.6" y="211" width="1" height="42" fill="#dd5f5f"/>
<rect x="583" y="213.3" width="2.2" height="38.9" fill="#dd5f5f"/>
<rect x="586.1" y="246" width="1" height="7" fill="#58c3cb"/>
<rect x="585.5" y="248.4" width="2.2" height="3.8" fill="#58c3cb"/>
<rect x="588.7" y="246" width="1" height="9" fill="#dd5f5f"/>
<rect x="588.1" y="248.4" width="2.2" height="5.7" fill="#dd5f5f"/>
<rect x="591.6" y="252" width="1" height="11.7" fill="#dd5f5f"/>
<rect x="591" y="253.5" width="2.2" height="7.6" fill="#dd5f5f"/>
<rect x="594.5" y="258" width="1" height="10.8" fill="#dd5f5f"/>
<rect x="593.9" y="259.8" width="2.2" height="6.4" fill="#dd5f5f"/>
<rect x="597.1" y="256" width="1" height="16" fill="#58c3cb"/>
<rect x="596.5" y="258" width="2.2" height="5.7" fill="#58c3cb"/>
<rect x="599.7" y="243.9" width="1" height="18.1" fill="#58c3cb"/>
<rect x="599.1" y="252.2" width="2.2" height="8.9" fill="#58c3cb"/>
<rect x="602.5" y="246.5" width="1" height="8.5" fill="#58c3cb"/>
<rect x="601.9" y="249" width="2.2" height="5.1" fill="#58c3cb"/>
<rect x="605" y="245" width="1" height="10" fill="#58c3cb"/>
<rect x="604.4" y="247.1" width="2.2" height="6.4" fill="#58c3cb"/>
<rect x="607.8" y="240.7" width="1" height="13.3" fill="#58c3cb"/>
<rect x="607.2" y="245.8" width="2.2" height="7" fill="#58c3cb"/>
<rect x="610.8" y="241" width="1" height="16.3" fill="#58c3cb"/>
<rect x="610.2" y="243.3" width="2.2" height="5.7" fill="#58c3cb"/>
<rect x="613.3" y="233.7" width="1" height="14.3" fill="#58c3cb"/>
<rect x="612.7" y="236.9" width="2.2" height="10.2" fill="#58c3cb"/>
<rect x="616.4" y="238" width="1" height="21.7" fill="#dd5f5f"/>
<rect x="615.8" y="240.6" width="2.2" height="8.9" fill="#dd5f5f"/>
<rect x="619.3" y="247" width="1" height="8" fill="#dd5f5f"/>
<rect x="618.7" y="249.4" width="2.2" height="4.5" fill="#dd5f5f"/>
<rect x="621.9" y="251" width="1" height="7" fill="#dd5f5f"/>
<rect x="621.3" y="252.6" width="2.2" height="4.5" fill="#dd5f5f"/>
<rect x="624.7" y="247" width="1" height="12" fill="#58c3cb"/>
<rect x="624.1" y="248.8" width="2.2" height="8.9" fill="#58c3cb"/>
<rect x="627.2" y="242" width="1" height="13" fill="#58c3cb"/>
<rect x="626.6" y="243.7" width="2.2" height="10.2" fill="#58c3cb"/>
<rect x="630.2" y="242" width="1" height="10" fill="#dd5f5f"/>
<rect x="629.6" y="244.3" width="2.2" height="4.5" fill="#dd5f5f"/>
<rect x="632.7" y="235.4" width="1" height="11.6" fill="#58c3cb"/>
<rect x="632.1" y="238" width="2.2" height="7.6" fill="#58c3cb"/>
<rect x="635.7" y="224.6" width="1" height="60.4" fill="#dd5f5f"/>
<rect x="635.1" y="244.3" width="2.2" height="39.6" fill="#dd5f5f"/>
<rect x="638.5" y="276" width="1" height="10" fill="#58c3cb"/>
<rect x="637.9" y="277.5" width="2.2" height="6.4" fill="#58c3cb"/>
<rect x="641" y="263" width="1" height="21" fill="#58c3cb"/>
<rect x="640.4" y="264.7" width="2.2" height="17.9" fill="#58c3cb"/>
<rect x="643.8" y="252" width="1" height="15" fill="#58c3cb"/>
<rect x="643.2" y="253.3" width="2.2" height="12.7" fill="#58c3cb"/>
<rect x="646.8" y="245" width="1" height="12" fill="#58c3cb"/>
<rect x="646.2" y="246.9" width="2.2" height="8.9" fill="#58c3cb"/>
<rect x="649.3" y="232.2" width="1" height="17.8" fill="#58c3cb"/>
<rect x="648.7" y="234.1" width="2.2" height="15.3" fill="#58c3cb"/>
<rect x="652.5" y="233.5" width="1" height="10" fill="#dd5f5f"/>
<rect x="651.9" y="236" width="2.2" height="6.4" fill="#dd5f5f"/>
<rect x="655.6" y="234" width="1" height="11" fill="#58c3cb"/>
<rect x="655" y="236" width="2.2" height="7.6" fill="#58c3cb"/>
<rect x="658.5" y="234" width="1" height="8.5" fill="#dd5f5f"/>
<rect x="657.9" y="236" width="2.2" height="5" fill="#dd5f5f"/>
<rect x="661.1" y="239" width="1" height="7" fill="#dd5f5f"/>
<rect x="660.5" y="241" width="2.2" height="3.2" fill="#dd5f5f"/>
<rect x="664" y="242" width="1" height="26.5" fill="#dd5f5f"/>
<rect x="663.4" y="243.6" width="2.2" height="23.6" fill="#dd5f5f"/>
<rect x="666.6" y="252" width="1" height="19" fill="#58c3cb"/>
<rect x="666" y="254.4" width="2.2" height="10.2" fill="#58c3cb"/>
<rect x="669.1" y="253" width="1" height="9" fill="#58c3cb"/>
<rect x="668.5" y="255.1" width="2.2" height="5.7" fill="#58c3cb"/>
<rect x="671.9" y="249" width="1" height="13.7" fill="#dd5f5f"/>
<rect x="671.3" y="251.9" width="2.2" height="6.4" fill="#dd5f5f"/>
<rect x="674.7" y="251" width="1" height="9" fill="#58c3cb"/>
<rect x="674.1" y="253.8" width="2.2" height="4.5" fill="#58c3cb"/>
<rect x="677.6" y="252" width="1" height="32.4" fill="#dd5f5f"/>
<rect x="677" y="254.4" width="2.2" height="25.6" fill="#dd5f5f"/>
<rect x="680.2" y="263" width="1" height="18" fill="#58c3cb"/>
<rect x="679.6" y="265.3" width="2.2" height="14.7" fill="#58c3cb"/>
<rect x="683.1" y="264" width="1" height="9" fill="#dd5f5f"/>
<rect x="682.5" y="265.9" width="2.2" height="5.1" fill="#dd5f5f"/>
<rect x="685.7" y="268" width="1" height="9.5" fill="#dd5f5f"/>
<rect x="685.1" y="269.7" width="2.2" height="6.4" fill="#dd5f5f"/>
<rect x="688.5" y="273" width="1" height="10" fill="#dd5f5f"/>
<rect x="687.9" y="275.5" width="2.2" height="6.5" fill="#dd5f5f"/>
<rect x="691.1" y="272" width="1" height="13" fill="#58c3cb"/>
<rect x="690.5" y="274.1" width="2.2" height="9.9" fill="#58c3cb"/>
<rect x="693.9" y="269.6" width="1" height="25.1" fill="#dd5f5f"/>
<rect x="693.3" y="273.5" width="2.2" height="15.5" fill="#dd5f5f"/>
<rect x="696.7" y="277" width="1" height="18" fill="#58c3cb"/>
<rect x="696.1" y="278.6" width="2.2" height="14.2" fill="#58c3cb"/>
<rect x="699.6" y="272.2" width="1" height="25" fill="#58c3cb"/>
<rect x="699" y="281" width="2.2" height="9.8" fill="#58c3cb"/>
<rect x="702.2" y="280" width="1" height="9.5" fill="#58c3cb"/>
<rect x="701.6" y="282.4" width="2.2" height="6.1" fill="#58c3cb"/>
<rect x="705" y="284" width="1" height="4.5" fill="#dd5f5f"/>
<rect x="704.4" y="285.5" width="2.2" height="1.8" fill="#dd5f5f"/>
<rect x="707.9" y="279" width="1" height="9.5" fill="#58c3cb"/>
<rect x="707.3" y="281.2" width="2.2" height="6.1" fill="#58c3cb"/>
<rect x="710.6" y="282" width="1" height="24.8" fill="#dd5f5f"/>
<rect x="710" y="283.5" width="2.2" height="16.9" fill="#dd5f5f"/>
<rect x="713.1" y="296.6" width="1" height="21.4" fill="#dd5f5f"/>
<rect x="712.5" y="301.7" width="2.2" height="15.3" fill="#dd5f5f"/>
<rect x="715.6" y="313" width="1" height="38.5" fill="#dd5f5f"/>
<rect x="715" y="315.2" width="2.2" height="35.7" fill="#dd5f5f"/>
<rect x="718.5" y="347" width="1" height="12.7" fill="#dd5f5f"/>
<rect x="717.9" y="349.5" width="2.2" height="5.8" fill="#dd5f5f"/>
<rect x="721.5" y="345" width="1" height="12" fill="#58c3cb"/>
<rect x="720.9" y="348" width="2.2" height="7.3" fill="#58c3cb"/>
<rect x="724.4" y="343" width="1" height="9" fill="#58c3cb"/>
<rect x="723.8" y="345.1" width="2.2" height="5.8" fill="#58c3cb"/>
<rect x="727" y="344" width="1" height="13.5" fill="#dd5f5f"/>
<rect x="726.4" y="345.8" width="2.2" height="2.9" fill="#dd5f5f"/>
<rect x="729.9" y="346" width="1" height="15" fill="#dd5f5f"/>
<rect x="729.3" y="348" width="2.2" height="11.7" fill="#dd5f5f"/>
<rect x="732.8" y="358" width="1" height="22.8" fill="#dd5f5f"/>
<rect x="732.2" y="359.7" width="2.2" height="16" fill="#dd5f5f"/>
<rect x="735.7" y="361.1" width="1" height="18.9" fill="#58c3cb"/>
<rect x="735.1" y="366.2" width="2.2" height="11.7" fill="#58c3cb"/>
<rect x="738.4" y="369" width="1" height="12" fill="#dd5f5f"/>
<rect x="737.8" y="371.3" width="2.2" height="8" fill="#dd5f5f"/>
<rect x="740.8" y="365" width="1" height="17" fill="#58c3cb"/>
<rect x="740.2" y="367.7" width="2.2" height="13.1" fill="#58c3cb"/>
<rect x="743.8" y="359" width="1" height="13" fill="#dd5f5f"/>
<rect x="743.2" y="367.7" width="2.2" height="2.9" fill="#dd5f5f"/>
<rect x="746.5" y="345" width="1" height="28" fill="#58c3cb"/>
<rect x="745.9" y="347.2" width="2.2" height="21.9" fill="#58c3cb"/>
<rect x="749.1" y="346.4" width="1" height="15.9" fill="#dd5f5f"/>
<rect x="748.5" y="348.3" width="2.2" height="6.3" fill="#dd5f5f"/>
<rect x="751.6" y="352" width="1" height="8" fill="#dd5f5f"/>
<rect x="751" y="354.6" width="2.2" height="3.9" fill="#dd5f5f"/>
<rect x="754.4" y="341.3" width="1" height="19.7" fill="#58c3cb"/>
<rect x="753.8" y="350.8" width="2.2" height="8.3" fill="#58c3cb"/>
<rect x="757.2" y="348" width="1" height="13" fill="#dd5f5f"/>
<rect x="756.6" y="350.2" width="2.2" height="5.1" fill="#dd5f5f"/>
<rect x="760.2" y="338" width="1" height="19" fill="#58c3cb"/>
<rect x="759.6" y="340" width="2.2" height="15.3" fill="#58c3cb"/>
<rect x="762.7" y="320.8" width="1" height="22.2" fill="#58c3cb"/>
<rect x="762.1" y="325.3" width="2.2" height="16.6" fill="#58c3cb"/>
<rect x="765.3" y="321.5" width="1" height="16.5" fill="#dd5f5f"/>
<rect x="764.7" y="326" width="2.2" height="10.8" fill="#dd5f5f"/>
<rect x="768.2" y="331" width="1" height="9" fill="#dd5f5f"/>
<rect x="767.6" y="336.1" width="2.2" height="2" fill="#dd5f5f"/>
<rect x="770.8" y="335" width="1" height="9" fill="#dd5f5f"/>
<rect x="770.2" y="337.4" width="2.2" height="5.1" fill="#dd5f5f"/>
<rect x="773.6" y="340" width="1" height="17" fill="#dd5f5f"/>
<rect x="773" y="341.9" width="2.2" height="14" fill="#dd5f5f"/>
<rect x="776.4" y="346" width="1" height="15" fill="#58c3cb"/>
<rect x="775.8" y="348.3" width="2.2" height="10.8" fill="#58c3cb"/>
<rect x="778.9" y="346" width="1" height="14" fill="#58c3cb"/>
<rect x="778.3" y="348.3" width="2.2" height="10.2" fill="#58c3cb"/>
<rect x="782.5" y="342.5" width="1" height="24.9" fill="#58c3cb"/>
<rect x="781.9" y="347.6" width="2.2" height="6.4" fill="#58c3cb"/>
<rect x="785" y="346" width="1" height="12" fill="#dd5f5f"/>
<rect x="784.4" y="348.9" width="2.2" height="7" fill="#dd5f5f"/>
<rect x="788.1" y="352" width="1" height="7" fill="#dd5f5f"/>
<rect x="787.5" y="353.4" width="2.2" height="4.1" fill="#dd5f5f"/>
<rect x="790.8" y="354" width="1" height="12" fill="#dd5f5f"/>
<rect x="790.2" y="355.5" width="2.2" height="8.9" fill="#dd5f5f"/>
<rect x="793.8" y="360.3" width="1" height="31.7" fill="#dd5f5f"/>
<rect x="793.2" y="364.4" width="2.2" height="26.6" fill="#dd5f5f"/>
<rect x="796.8" y="388" width="1" height="19.4" fill="#dd5f5f"/>
<rect x="796.2" y="389.6" width="2.2" height="6.9" fill="#dd5f5f"/>
<rect x="799.3" y="389" width="1" height="17" fill="#dd5f5f"/>
<rect x="798.7" y="391" width="2.2" height="6.8" fill="#dd5f5f"/>
<rect x="802" y="385" width="1" height="14" fill="#58c3cb"/>
<rect x="801.4" y="386.9" width="2.2" height="10.3" fill="#58c3cb"/>
<rect x="804.7" y="382" width="1" height="9" fill="#58c3cb"/>
<rect x="804.1" y="384.2" width="2.2" height="4.8" fill="#58c3cb"/>
<rect x="807.5" y="384" width="1" height="7" fill="#dd5f5f"/>
<rect x="806.9" y="386.2" width="2.2" height="2.8" fill="#dd5f5f"/>
<rect x="810.2" y="375.3" width="1" height="16.4" fill="#58c3cb"/>
<rect x="809.6" y="382.8" width="2.2" height="5.5" fill="#58c3cb"/>
<rect x="813.2" y="373.9" width="1" height="17.1" fill="#dd5f5f"/>
<rect x="812.6" y="384.2" width="2.2" height="3.4" fill="#dd5f5f"/>
<rect x="815.9" y="377.3" width="1" height="13.2" fill="#dd5f5f"/>
<rect x="815.3" y="386.2" width="2.2" height="2.8" fill="#dd5f5f"/>
<rect x="818.4" y="380" width="1" height="13" fill="#dd5f5f"/>
<rect x="817.8" y="387.6" width="2.2" height="4.1" fill="#dd5f5f"/>
<rect x="820.9" y="383" width="1" height="11" fill="#58c3cb"/>
<rect x="820.3" y="384.9" width="2.2" height="7.5" fill="#58c3cb"/>
<rect x="823.6" y="383" width="1" height="11.5" fill="#dd5f5f"/>
<rect x="823" y="385.5" width="2.2" height="7.5" fill="#dd5f5f"/>
<rect x="826.8" y="386" width="1" height="12.5" fill="#58c3cb"/>
<rect x="826.2" y="387.6" width="2.2" height="6.1" fill="#58c3cb"/>
<rect x="829.1" y="363" width="1" height="26" fill="#58c3cb"/>
<rect x="828.5" y="376" width="2.2" height="12.3" fill="#58c3cb"/>
<rect x="831.8" y="368.5" width="1" height="13.5" fill="#dd5f5f"/>
<rect x="831.2" y="376" width="2.2" height="4.1" fill="#dd5f5f"/>
<rect x="835" y="369.2" width="1" height="14.3" fill="#58c3cb"/>
<rect x="834.4" y="374.6" width="2.2" height="5.5" fill="#58c3cb"/>
<rect x="837.7" y="369" width="1" height="10.5" fill="#58c3cb"/>
<rect x="837.1" y="371.2" width="2.2" height="6.8" fill="#58c3cb"/>
<rect x="840.5" y="370" width="1" height="6" fill="#dd5f5f"/>
<rect x="839.9" y="371.9" width="2.2" height="2.7" fill="#dd5f5f"/>
<rect x="843.2" y="363" width="1" height="14.5" fill="#dd5f5f"/>
<rect x="842.6" y="373.9" width="2.2" height="2.1" fill="#dd5f5f"/>
<rect x="845.5" y="373" width="1" height="15.3" fill="#dd5f5f"/>
<rect x="844.9" y="374.6" width="2.2" height="6.8" fill="#dd5f5f"/>
<rect x="848.6" y="365.7" width="1" height="18.3" fill="#58c3cb"/>
<rect x="848" y="378.7" width="2.2" height="4.1" fill="#58c3cb"/>
<rect x="851.4" y="379" width="1" height="15" fill="#dd5f5f"/>
<rect x="850.8" y="380.8" width="2.2" height="11.6" fill="#dd5f5f"/>
<rect x="854.4" y="386" width="1" height="8" fill="#dd5f5f"/>
<rect x="853.8" y="388.3" width="2.2" height="4.1" fill="#dd5f5f"/>
<rect x="856.7" y="383" width="1" height="10" fill="#58c3cb"/>
<rect x="856.1" y="384.5" width="2.2" height="7.7" fill="#58c3cb"/>
<rect x="859.6" y="375.6" width="1" height="12.4" fill="#58c3cb"/>
<rect x="859" y="379.4" width="2.2" height="7.7" fill="#58c3cb"/>
<rect x="862.4" y="378.2" width="1" height="25.5" fill="#dd5f5f"/>
<rect x="861.8" y="382" width="2.2" height="16.6" fill="#dd5f5f"/>
<rect x="865.2" y="392.8" width="1" height="18.5" fill="#dd5f5f"/>
<rect x="864.6" y="398.6" width="2.2" height="11.4" fill="#dd5f5f"/>
<rect x="867.8" y="401" width="1" height="10.3" fill="#58c3cb"/>
<rect x="867.2" y="403.7" width="2.2" height="6.3" fill="#58c3cb"/>
<rect x="870.3" y="396" width="1" height="13" fill="#58c3cb"/>
<rect x="869.7" y="398.6" width="2.2" height="8.9" fill="#58c3cb"/>
<rect x="873.3" y="388" width="1" height="12" fill="#58c3cb"/>
<rect x="872.7" y="389.6" width="2.2" height="9" fill="#58c3cb"/>
<rect x="876.2" y="383.9" width="1" height="12.1" fill="#58c3cb"/>
<rect x="875.6" y="385.8" width="2.2" height="8.9" fill="#58c3cb"/>
<rect x="879" y="378.8" width="1" height="23.6" fill="#dd5f5f"/>
<rect x="878.4" y="387.1" width="2.2" height="11.5" fill="#dd5f5f"/>
<rect x="881.3" y="368" width="1" height="31" fill="#58c3cb"/>
<rect x="880.7" y="370.5" width="2.2" height="26.8" fill="#58c3cb"/>
<rect x="884.1" y="354" width="1" height="18" fill="#58c3cb"/>
<rect x="883.5" y="356.5" width="2.2" height="14" fill="#58c3cb"/>
<rect x="886.9" y="350" width="1" height="12" fill="#58c3cb"/>
<rect x="886.3" y="352" width="2.2" height="8.3" fill="#58c3cb"/>
<rect x="889.9" y="350" width="1" height="12" fill="#dd5f5f"/>
<rect x="889.3" y="352.7" width="2.2" height="7.6" fill="#dd5f5f"/>
<rect x="892.2" y="336" width="1" height="25" fill="#58c3cb"/>
<rect x="891.6" y="338.3" width="2.2" height="21.8" fill="#58c3cb"/>
<rect x="895.3" y="332.8" width="1" height="16.2" fill="#dd5f5f"/>
<rect x="894.7" y="338.3" width="2.2" height="9.1" fill="#dd5f5f"/>
<rect x="898.1" y="345" width="1" height="19" fill="#dd5f5f"/>
<rect x="897.5" y="347.4" width="2.2" height="15.4" fill="#dd5f5f"/>
<rect x="901" y="351" width="1" height="13" fill="#58c3cb"/>
<rect x="900.4" y="352.8" width="2.2" height="10" fill="#58c3cb"/>
<rect x="903.7" y="352" width="1" height="10" fill="#dd5f5f"/>
<rect x="903.1" y="354.6" width="2.2" height="5.5" fill="#dd5f5f"/>
<rect x="906.4" y="341" width="1" height="17" fill="#58c3cb"/>
<rect x="905.8" y="343.7" width="2.2" height="12.8" fill="#58c3cb"/>
<rect x="909" y="336.4" width="1" height="16.6" fill="#dd5f5f"/>
<rect x="908.4" y="345.5" width="2.2" height="5.5" fill="#dd5f5f"/>
<rect x="912.3" y="342.8" width="1" height="19.2" fill="#dd5f5f"/>
<rect x="911.7" y="349.2" width="2.2" height="10.9" fill="#dd5f5f"/>
<rect x="915" y="343.7" width="1" height="17.3" fill="#58c3cb"/>
<rect x="914.4" y="349.2" width="2.2" height="10" fill="#58c3cb"/>
<rect x="917.7" y="347.4" width="1" height="10.6" fill="#dd5f5f"/>
<rect x="917.1" y="352.8" width="2.2" height="3.7" fill="#dd5f5f"/>
<rect x="920.8" y="355" width="1" height="12" fill="#dd5f5f"/>
<rect x="920.2" y="357.4" width="2.2" height="8.2" fill="#dd5f5f"/>
<rect x="923.6" y="360" width="1" height="11" fill="#dd5f5f"/>
<rect x="923" y="362.8" width="2.2" height="6.4" fill="#dd5f5f"/>
<rect x="926.5" y="352" width="1" height="21.8" fill="#58c3cb"/>
<rect x="925.9" y="354.6" width="2.2" height="14.6" fill="#58c3cb"/>
<rect x="929.1" y="344" width="1" height="26" fill="#58c3cb"/>
<rect x="928.5" y="345.7" width="2.2" height="23" fill="#58c3cb"/>
<rect x="931.9" y="333" width="1" height="24" fill="#58c3cb"/>
<rect x="931.3" y="335" width="2.2" height="20.6" fill="#58c3cb"/>
<rect x="934.3" y="333" width="1" height="13" fill="#dd5f5f"/>
<rect x="933.7" y="335" width="2.2" height="9.9" fill="#dd5f5f"/>
<rect x="937.3" y="330" width="1" height="16" fill="#58c3cb"/>
<rect x="936.7" y="331.8" width="2.2" height="12.3" fill="#58c3cb"/>
<rect x="940.1" y="308" width="1" height="26" fill="#58c3cb"/>
<rect x="939.5" y="314.6" width="2.2" height="18" fill="#58c3cb"/>
<rect x="942.5" y="302" width="1" height="14" fill="#58c3cb"/>
<rect x="941.9" y="303.9" width="2.2" height="10.7" fill="#58c3cb"/>
<rect x="945.5" y="297.4" width="1" height="19.6" fill="#dd5f5f"/>
<rect x="944.9" y="303.9" width="2.2" height="11.5" fill="#dd5f5f"/>
<rect x="948.3" y="306.4" width="1" height="17.6" fill="#dd5f5f"/>
<rect x="947.7" y="315.4" width="2.2" height="7.4" fill="#dd5f5f"/>
<rect x="950.7" y="318" width="1" height="10" fill="#dd5f5f"/>
<rect x="950.1" y="320.3" width="2.2" height="5.8" fill="#dd5f5f"/>
<rect x="953.7" y="321" width="1" height="7.5" fill="#58c3cb"/>
<rect x="953.1" y="323.6" width="2.2" height="3.3" fill="#58c3cb"/>
<rect x="956.5" y="309" width="1" height="18" fill="#58c3cb"/>
<rect x="955.9" y="311.3" width="2.2" height="13.9" fill="#58c3cb"/>
<rect x="959.3" y="309" width="1" height="29.4" fill="#dd5f5f"/>
<rect x="958.7" y="311.3" width="2.2" height="24.6" fill="#dd5f5f"/>
<rect x="962.2" y="316" width="1" height="18" fill="#58c3cb"/>
<rect x="961.6" y="318.7" width="2.2" height="13.9" fill="#58c3cb"/>
<rect x="964.7" y="304" width="1" height="17" fill="#58c3cb"/>
<rect x="964.1" y="306.4" width="2.2" height="13.1" fill="#58c3cb"/>
<rect x="967.5" y="304" width="1" height="12" fill="#dd5f5f"/>
<rect x="966.9" y="306.4" width="2.2" height="8.2" fill="#dd5f5f"/>
<rect x="970.4" y="304" width="1" height="12" fill="#58c3cb"/>
<rect x="969.8" y="306.4" width="2.2" height="8.2" fill="#58c3cb"/>
<rect x="973.2" y="298.2" width="1" height="15.8" fill="#dd5f5f"/>
<rect x="972.6" y="306.4" width="2.2" height="5.7" fill="#dd5f5f"/>
<polyline points="0,173.8 30.3,173.8 33.6,169.2 72.4,169" fill="none" stroke="#78b97a" stroke-width="1.1" stroke-linejoin="round"/>
<polyline points="74.4,120.9 76.6,128.2 80.2,131.9 81.7,135.5 91.1,181.5 102.9,181.6 107.8,199.7 114.3,204.6 120.9,218.5 128.3,223 130.7,224.6 163,224.6" fill="none" stroke="#e38b8b" stroke-width="1.1" stroke-linejoin="round"/>
<polyline points="165.4,266.9 171.1,237.4 176,235.7 195.7,235.7" fill="none" stroke="#78b97a" stroke-width="1.1" stroke-linejoin="round"/>
<polyline points="199.5,182.4 200.5,200 204.3,216.6 207.7,222.3 224,222.3 226.6,233.2 236,233.3 240.4,237.1 245.3,238.7 249.1,244.2 266,244.2" fill="none" stroke="#e38b8b" stroke-width="1.1" stroke-linejoin="round"/>
<polyline points="267.5,295.6 272,283.8 280,282 301.9,277.9 307.3,265.6 334.6,265.6 340,243.9 344.1,235.6 359.2,231.5 364.1,212.1 379.5,211.6 383.6,204.1 388.7,202.7 394.6,199 400.4,188.1 404,176.4 409.2,167.7 439.8,167 442.7,165.5 459.4,165.5" fill="none" stroke="#78b97a" stroke-width="1.1" stroke-linejoin="round"/>
<polyline points="461.9,125.4 464.6,132.5 468.4,135.2 472.8,137.4 503.4,137.4 506.7,143.4 512.1,162 514.3,163.1 528.5,163.1" fill="none" stroke="#e38b8b" stroke-width="1.1" stroke-linejoin="round"/>
<polyline points="531,208.1 558.4,208.1" fill="none" stroke="#78b97a" stroke-width="1.1" stroke-linejoin="round"/>
<polyline points="561.8,150.9 563.1,171 566.4,175.5 581.9,175.5 584.6,183.7 587.3,205.6 593.7,218.3 598.3,222.9 635.6,222.9 638.3,229.3 687.1,229.9 690,235.2 695.1,239 707.9,240.3 711.7,250.5 716.8,297.7 721.9,301.5 728.3,306.6 739.7,320.5 792,320.5 795.9,347.8 824.1,348 826.9,350.7 862.3,350.7 868,363.5 882.1,363.5" fill="none" stroke="#e38b8b" stroke-width="1.1" stroke-linejoin="round"/>
<polyline points="884.6,411.3 892.3,397.3 896.4,393.8 905.5,393.8 908.2,392 935,392 938.9,380 943.9,357.2 969.3,357.2 972.5,351.5 976,351.5" fill="none" stroke="#78b97a" stroke-width="1.1" stroke-linejoin="round"/>
<!-- arrows -->
<g stroke="#d81c24" stroke-width="2.4" stroke-linecap="round" fill="#d81c24">
<line x1="221.5" y1="167.6" x2="263" y2="219.5"/>
<polygon stroke="none" points="267.6,225.3 259.3,220.6 264.8,216"/>
<line x1="292.2" y1="308.5" x2="427" y2="187.5"/>
<polygon stroke="none" points="432.9,181.9 423.8,186.2 428.5,191"/>
<line x1="518.1" y1="87" x2="476" y2="159"/>
<polygon stroke="none" points="471.8,166 473.6,156.8 479.2,159.6"/>
<line x1="583.7" y1="147.3" x2="838" y2="331"/>
<polygon stroke="none" points="844.8,336.1 835.6,334 839.7,328.3"/>
</g>

<!-- axes -->
<line x1="975.7" y1="4" x2="975.7" y2="549" stroke="#dfe2e8" stroke-width="1.2"/>
<line x1="0" y1="529.7" x2="975" y2="529.7" stroke="#dfe2e8" stroke-width="1.2"/>
<line x1="0.5" y1="4" x2="0.5" y2="549" stroke="#d9dce3" stroke-width="1"/>
<line x1="0" y1="3.5" x2="1024" y2="3.5" stroke="#e0e3eb" stroke-width="1"/>
<line x1="77.5" y1="0" x2="77.5" y2="3.5" stroke="#e0e3eb"/><line x1="233.5" y1="0" x2="233.5" y2="3.5" stroke="#e0e3eb"/><line x1="311.5" y1="0" x2="311.5" y2="3.5" stroke="#e0e3eb"/><line x1="407.5" y1="0" x2="407.5" y2="3.5" stroke="#e0e3eb"/><line x1="530.5" y1="0" x2="530.5" y2="3.5" stroke="#e0e3eb"/><line x1="573.5" y1="0" x2="573.5" y2="3.5" stroke="#e0e3eb"/><line x1="628.5" y1="0" x2="628.5" y2="3.5" stroke="#e0e3eb"/><line x1="675.5" y1="0" x2="675.5" y2="3.5" stroke="#e0e3eb"/><line x1="743.5" y1="0" x2="743.5" y2="3.5" stroke="#e0e3eb"/><line x1="779.5" y1="0" x2="779.5" y2="3.5" stroke="#e0e3eb"/><line x1="808.5" y1="0" x2="808.5" y2="3.5" stroke="#e0e3eb"/><line x1="873.5" y1="0" x2="873.5" y2="3.5" stroke="#e0e3eb"/><line x1="904.5" y1="0" x2="904.5" y2="3.5" stroke="#e0e3eb"/><line x1="934.5" y1="0" x2="934.5" y2="3.5" stroke="#e0e3eb"/>
<rect x="963" y="0" width="61" height="3.3" fill="#2962ff"/>
</svg>
<div id="t1" class="a" style="left:8.6px;top:9.8px;font-size:11.8px;letter-spacing:0.22px;color:#131722;">Euro / U.S. Dollar</div>
<div class="a" style="left:107.5px;top:15px;width:2px;height:2px;border-radius:1px;background:#c8cad0;"></div>
<div id="t2" class="a" style="left:113.5px;top:9.8px;font-size:11.8px;letter-spacing:0.2px;color:#131722;">4h</div>
<div class="a" style="left:130px;top:15px;width:2px;height:2px;border-radius:1px;background:#c8cad0;"></div>
<div id="t3" class="a" style="left:135.5px;top:9.8px;font-size:11.8px;letter-spacing:-0.7px;color:#131722;">FXCM</div>
<svg style="left:173px;top:11.6px" width="10" height="9.2" viewBox="0 0 10 9.2"><path d="M0,0 H9 L6.2,4.55 L9,9.1 H0 Z" fill="#f03a3e"/></svg>
<div class="a" style="left:197.4px;top:10.2px;width:29px;height:11.4px;border-radius:5.7px;background:#eceef1;overflow:hidden;">
  <div style="position:absolute;left:13.8px;top:0;width:16px;height:11.4px;background:#f8d3e0;"></div>
  <div style="position:absolute;left:3.8px;top:4.6px;width:7.2px;height:2.4px;border-radius:1.2px;background:#7c7f88;"></div>
  <svg style="position:absolute;left:17px;top:3.6px" width="7.5" height="5" viewBox="0 0 7.5 5"><path d="M0.6,1.4 Q2,0.4 3.7,1.2 T6.9,1.0 M0.6,3.9 Q2,2.9 3.7,3.7 T6.9,3.5" stroke="#cf4a7e" stroke-width="1.3" fill="none" stroke-linecap="round"/></svg>
</div>
<div id="o" class="a" style="left:238px;top:12.5px;font-size:9px;letter-spacing:0.46px;color:#787b86;">O<span style="color:#dc6a68">1.13109</span> H<span style="color:#dc6a68">1.13272</span> L<span style="color:#dc6a68">1.13011</span> C<span style="color:#dc6a68">1.13062</span> <span style="color:#dc6a68">−0.00047 (−0.04%)</span></div>
<div class="a" style="left:7px;top:28.5px;width:44px;height:16px;border:1px solid #e8a3a1;border-radius:3px;"></div>
<div id="b1" class="a" style="left:13.5px;top:30.3px;font-size:9.4px;letter-spacing:0.3px;color:#e25b58;">1.1306<sup style="font-size:6.4px;letter-spacing:0;margin-left:-0.3px">2</sup></div>
<div id="b2" class="a" style="left:58.8px;top:31px;font-size:9.4px;letter-spacing:0px;color:#787b86;">6.4</div>
<div class="a" style="left:77px;top:28.5px;width:44px;height:16px;border:1px solid #9fb0d6;border-radius:3px;"></div>
<div id="b3" class="a" style="left:83.2px;top:30.3px;font-size:9.4px;letter-spacing:0.3px;color:#4a67b8;">1.1312<sup style="font-size:6.4px;letter-spacing:0;margin-left:-0.3px">6</sup></div>
<div id="s1" class="a" style="left:8px;top:53.6px;font-size:9.2px;letter-spacing:0.2px;color:#434651;">Supertrend</div>
<div id="s2" class="a" style="left:60px;top:53.6px;font-size:9.2px;letter-spacing:0.2px;color:#434651;">10 3</div>
<div id="s3" class="a" style="left:84.4px;top:53.6px;font-size:9.2px;letter-spacing:0.2px;color:#4caf50;">1.12715</div>
<div id="s4" class="a" style="left:123.2px;top:53.6px;font-size:9.2px;letter-spacing:0.2px;color:#434651;">n/a</div>
<div id="buy" class="a" style="left:191.4px;top:154.5px;font-size:14px;letter-spacing:0.28px;color:#c04040;">Buy Signal</div>
<div id="sell" class="a" style="left:485.6px;top:68.2px;font-size:14px;letter-spacing:0.28px;color:#c04040;">Sell Signal</div>
<div class="pl" style="top:29px">1.20000</div>
<div class="pl" style="top:69px">1.19500</div>
<div class="pl" style="top:108.5px">1.19000</div>
<div class="pl" style="top:148px">1.18500</div>
<div class="pl" style="top:188px">1.18000</div>
<div class="pl" style="top:228px">1.17500</div>
<div class="pl" style="top:267.5px">1.17000</div>
<div class="pl" style="top:307px">1.16500</div>
<div class="pl" style="top:347px">1.16000</div>
<div class="pl" style="top:387px">1.15500</div>
<div class="pl" style="top:426.5px">1.15000</div>
<div class="pl" style="top:466px">1.14500</div>
<div class="pl" style="top:506px">1.14000</div>
<div class="a" style="left:975px;top:312px;width:45px;height:13px;background:#ef5350;color:#fff;font-size:8.6px;line-height:13px;text-indent:9px;">1.16420</div>
<div class="a" style="left:985px;top:9px;width:27px;height:14px;border:1px solid #e0e3eb;border-radius:3px;"><div style="position:absolute;left:4.2px;top:-0.2px;font-size:8.5px;line-height:14px;letter-spacing:0px;transform:scaleX(0.86);transform-origin:0 0;color:#434651;">USD</div><svg style="position:absolute;left:20.8px;top:4.8px" width="5" height="4" viewBox="0 0 5 4"><path d="M0.7,0.7 L2.5,2.6 L4.3,0.7" stroke="#434651" stroke-width="1.3" fill="none"/></svg></div>
<div class="tl" style="left:10px">Aug</div>
<div class="tl" style="left:94.4px">9</div>
<div class="tl" style="left:177.2px">16</div>
<div class="tl" style="left:259.7px">23</div>
<div class="tl" style="left:376.2px">Sep</div>
<div class="tl" style="left:442px">7</div>
<div class="tl" style="left:508.8px">13</div>
<div class="tl" style="left:591.4px">20</div>
<div class="tl" style="left:674px">27</div>
<div class="tl" style="left:740.5px">Oct</div>
<div class="tl" style="left:840.2px">11</div>
<div class="tl" style="left:923px">18</div>
<div class="a" style="left:8px;top:500.8px;width:23.6px;height:23.6px;border-radius:50%;background:#fff;box-shadow:0 0 2px 1px rgba(0,0,0,0.06);"></div>
<svg style="left:11.3px;top:509.2px" width="16.2" height="8.2" viewBox="0 4 36 18"><path d="M14 22H7V11H0V4h14v18zM28 22h-8l7.5-18h8L28 22z" fill="#131722"/><circle cx="20" cy="8" r="4" fill="#131722"/></svg>
<div class="a" style="left:942.3px;top:485.2px;width:20px;height:20px;border-radius:50%;background:#fff;box-shadow:0 1px 3px 0 rgba(0,0,0,0.12);"></div>
<svg style="left:946px;top:490px" width="11" height="10" viewBox="0 0 11 10"><path d="M1.5,1.5 L5,5 L1.5,8.5 M5.5,1.5 L9,5 L5.5,8.5" stroke="#50535e" stroke-width="1.6" fill="none" stroke-linecap="round" stroke-linejoin="round"/></svg>
<svg style="left:993px;top:534.5px" width="12" height="12" viewBox="0 0 12 12"><g fill="none" stroke="#434651" stroke-width="1.1"><circle cx="6" cy="6" r="3.2"/><path d="M6,0.8 V2.4 M6,9.6 V11.2 M0.8,6 H2.4 M9.6,6 H11.2 M2.3,2.3 L3.4,3.4 M8.6,8.6 L9.7,9.7 M2.3,9.7 L3.4,8.6 M8.6,3.4 L9.7,2.3"/></g></svg>

</div>
</body></html>
